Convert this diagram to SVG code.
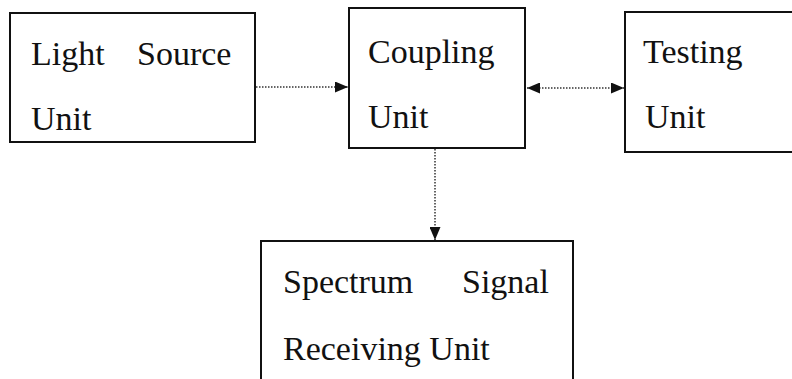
<svg xmlns="http://www.w3.org/2000/svg" width="792" height="379" viewBox="0 0 792 379">
<style>
.box{fill:#fff;stroke:#111;stroke-width:2}
.t{font-size:34px;fill:#111}
.c{stroke:#333;stroke-width:1.5;stroke-dasharray:1.5,1.5;fill:none}
</style>
<defs>
<marker id="ah" viewBox="0 0 13 11" refX="13" refY="5.5" markerWidth="13" markerHeight="11" markerUnits="userSpaceOnUse" orient="auto-start-reverse">
<path d="M0,0 L13,5.5 L0,11 z" fill="#111"/>
</marker>
</defs>
<rect width="792" height="379" fill="#fff"/>
<g font-family="Liberation Serif, Times New Roman, serif">
<g id="light-source">
<rect class="box" x="10" y="13" width="245" height="129"/>
<text class="t" x="31" y="65">Light</text>
<text class="t" x="137" y="65">Source</text>
<text class="t" x="31" y="130">Unit</text>
</g>
<g id="coupling">
<rect class="box" x="349" y="8" width="176" height="140"/>
<text class="t" x="368" y="63">Coupling</text>
<text class="t" x="368" y="128">Unit</text>
</g>
<g id="testing">
<rect class="box" x="625" y="12" width="180" height="140"/>
<text class="t" x="643" y="63">Testing</text>
<text class="t" x="645" y="128">Unit</text>
</g>
<g id="spectrum">
<rect class="box" x="261" y="241" width="312" height="150"/>
<text class="t" x="283" y="293">Spectrum</text>
<text class="t" x="462" y="293">Signal</text>
<text class="t" x="283" y="360">Receiving Unit</text>
</g>
</g>
<g id="connectors">
<line class="c" x1="256" y1="87" x2="348" y2="87" marker-end="url(#ah)"/>
<line class="c" x1="527" y1="88" x2="624" y2="88" marker-start="url(#ah)" marker-end="url(#ah)"/>
<line class="c" x1="435" y1="149" x2="435" y2="240" marker-end="url(#ah)"/>
</g>
</svg>
